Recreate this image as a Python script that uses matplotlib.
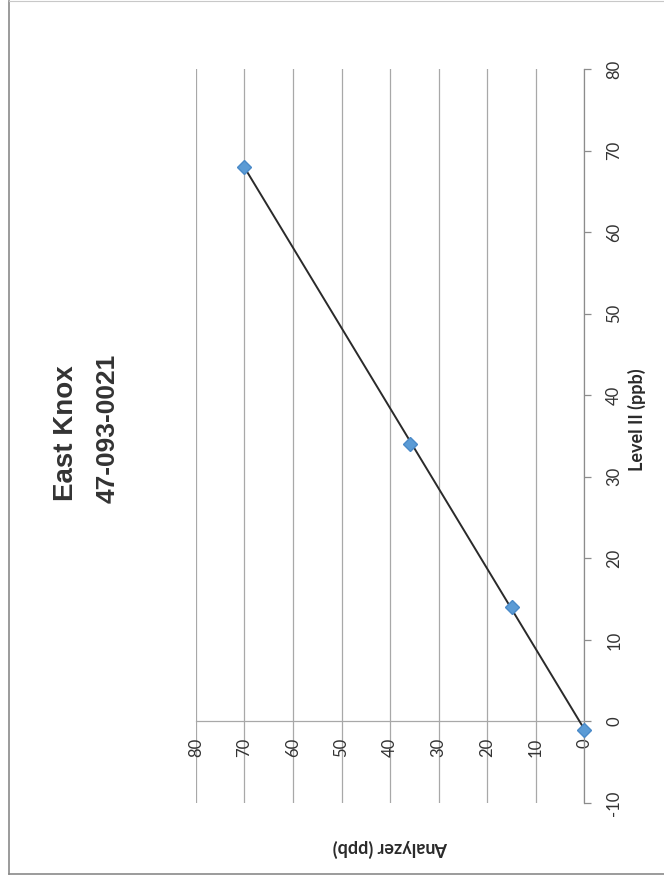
import numpy as np
import matplotlib
matplotlib.use("Agg")
import matplotlib.pyplot as plt
from matplotlib.lines import Line2D

plt.rcParams["axes.unicode_minus"] = False

# Data (Level II on original x-axis, Analyzer on original y-axis)
level_ii = [-1, 14, 34, 68]
analyzer = [0, 14.8, 35.8, 70]
analyzer_ticks = [0, 10, 20, 30, 40, 50, 60, 70, 80]
level_ticks = [-10, 0, 10, 20, 30, 40, 50, 60, 70, 80]
title_lines = ["East Knox", "47-093-0021"]

W, H, DPI = 664, 880, 100
fig = plt.figure(figsize=(W / DPI, H / DPI), dpi=DPI)
fig.patch.set_facecolor("white")

# page (scan) border
border = "#8a8a8a"
fig.add_artist(Line2D([9 / W, 9 / W], [1 - 874 / H, 1 - 1 / H], color=border, lw=1.2))
fig.add_artist(Line2D([9 / W, 1], [1 - 874 / H, 1 - 874 / H], color=border, lw=1.2))
fig.add_artist(Line2D([9 / W, 1], [1 - 1.5 / H, 1 - 1.5 / H], color="#c8c8c8", lw=0.8))

# axes (page is rotated 90 deg CCW: analyzer runs right->left, Level II bottom->top)
left, right, top, bottom = 196, 584, 69, 803
ax = fig.add_axes([left / W, 1 - bottom / H, (right - left) / W, (bottom - top) / H])
ax.set_xlim(80, 0)
ax.set_ylim(-10, 80)

grid_c = "#a8a8a8"
ax.set_xticks(analyzer_ticks)
ax.set_yticks(level_ticks)
ax.grid(axis="x", color=grid_c, lw=0.9)
ax.grid(axis="y", visible=False)
ax.set_axisbelow(True)

for s in ("top", "left"):
    ax.spines[s].set_visible(False)
ax.spines["bottom"].set_position(("data", 0))
ax.spines["bottom"].set_color(grid_c)
ax.spines["bottom"].set_linewidth(0.9)
ax.spines["right"].set_color("#8c8c8c")
ax.spines["right"].set_linewidth(0.9)

tick_font = "Lato"
ax.tick_params(axis="x", length=0, pad=12, labelsize=12, labelcolor="#333333",
               labelrotation=90)
for t in ax.get_xticklabels():
    t.set_family(tick_font)
ax.yaxis.tick_right()
ax.tick_params(axis="y", direction="out", length=5, width=0.9, color="#8c8c8c",
               pad=11, labelsize=12, labelcolor="#333333", labelrotation=90)
for t in ax.get_yticklabels():
    t.set_family(tick_font)
    t.set_va("center")

# data and linear trendline
coef = np.polyfit(level_ii, analyzer, 1)
lx = np.array([min(level_ii), max(level_ii)])
ax.plot(np.polyval(coef, lx), lx, color="#2a2a2a", lw=1.4, zorder=3)
ax.plot(analyzer, level_ii, linestyle="none", marker="D", markersize=7,
        color="#5b9bd5", markeredgecolor="#4a8ac8", zorder=4, clip_on=False)

# axis titles
ax.set_xlabel("Analyzer (ppb)", rotation=180, fontsize=13, fontweight="bold",
              family="Lato", color="#2a2a2a", va="center", ha="center")
ax.xaxis.set_label_coords(0.5, -(848 - bottom) / (bottom - top))
ax.yaxis.set_label_position("right")
ax.set_ylabel("Level II (ppb)", rotation=90, fontsize=13, fontweight="bold",
              family="Lato", color="#2a2a2a", va="center", ha="center")
ax.yaxis.set_label_coords((637 - left) / (right - left), (bottom - 420) / (bottom - top))

# chart title (rotated)
fig.text(66 / W, 1 - 433 / H, title_lines[0], rotation=90, ha="center", va="center",
         fontsize=20, fontweight="bold", family="Liberation Sans", color="#333333")
fig.text(108 / W, 1 - 428 / H, title_lines[1], rotation=90, ha="center", va="center",
         fontsize=19, fontweight="bold", family="Liberation Sans", color="#333333")

fig.savefig("out.png", dpi=DPI)
